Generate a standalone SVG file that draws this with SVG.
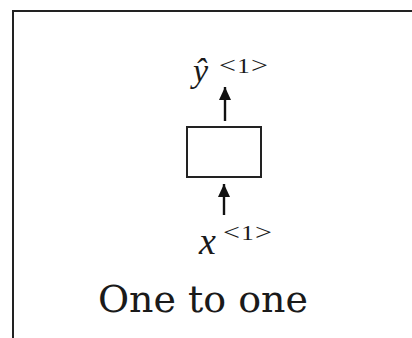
<svg xmlns="http://www.w3.org/2000/svg" width="412" height="338" viewBox="0 0 412 338">
  <defs>
    <style>
      .math { font-family: "Liberation Serif", "DejaVu Serif", serif; font-style: italic; fill: #1a1a1a; }
      .sup { font-family: "Liberation Serif", "DejaVu Serif", serif; fill: #1a1a1a; }
      .br { font-size: 24px; }
      .dg { font-size: 20px; }
      .title { font-family: "DejaVu Serif", "Liberation Serif", serif; fill: #1a1a1a; }
      .conn { stroke: #111; stroke-width: 2.4; fill: none; }
    </style>
  </defs>
  <rect x="0" y="0" width="412" height="338" fill="#ffffff"/>
  <rect x="13" y="11" width="420" height="340" fill="#ffffff" stroke="#222" stroke-width="2"/>
  <g id="cell">
    <rect x="187" y="127" width="74" height="50" fill="#ffffff" stroke="#222" stroke-width="2"/>
  </g>
  <g id="output">
    <text class="math" x="193" y="82" font-size="34">ŷ</text>
    <text class="sup" transform="translate(219,73) scale(1.25,1)"><tspan class="br">&lt;</tspan><tspan class="dg" dx="1">1</tspan><tspan class="br" dx="1">&gt;</tspan></text>
  </g>
  <g id="input">
    <text class="math" x="199" y="254" font-size="38">x</text>
    <text class="sup" transform="translate(223,240) scale(1.25,1)"><tspan class="br">&lt;</tspan><tspan class="dg" dx="1">1</tspan><tspan class="br" dx="1">&gt;</tspan></text>
  </g>
  <g id="title">
    <text class="title" x="98" y="312" font-size="37" textLength="210" lengthAdjust="spacingAndGlyphs">One to one</text>
  </g>
  <g id="connectors">
    <line class="conn" x1="225" y1="121" x2="225" y2="87"/>
    <path d="M225,87 L231,100 L219,100 Z" fill="#111"/>
    <line class="conn" x1="224" y1="215" x2="224" y2="184"/>
    <path d="M224,184 L230,197 L218,197 Z" fill="#111"/>
  </g>
</svg>
